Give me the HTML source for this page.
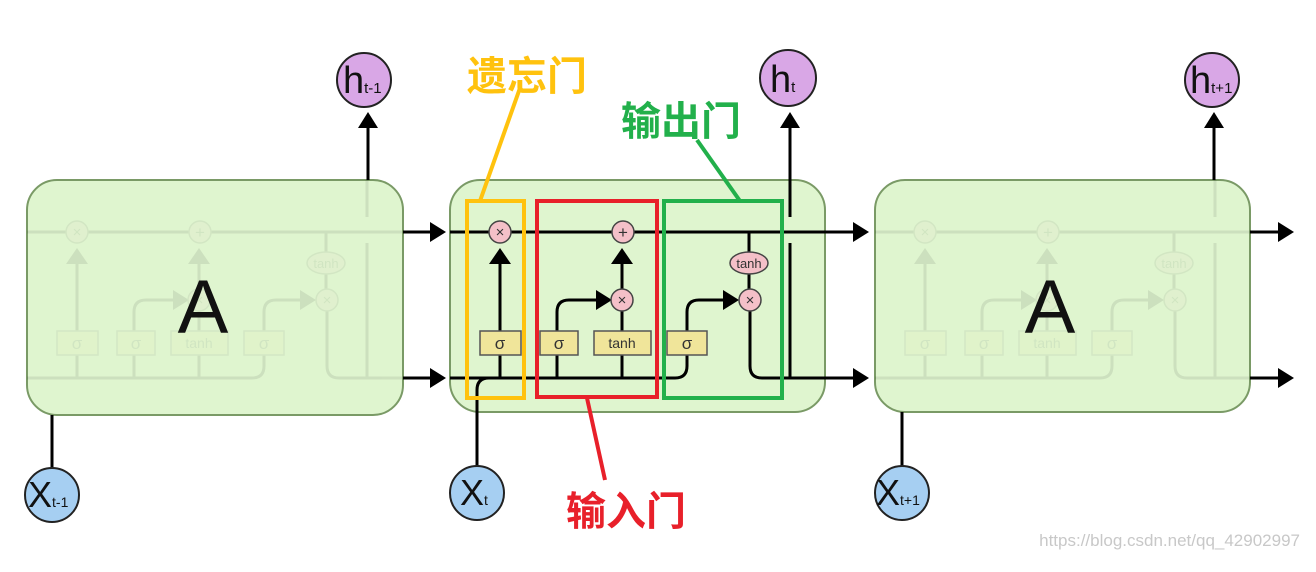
<!DOCTYPE html>
<html><head><meta charset="utf-8"><style>
html,body{margin:0;padding:0;background:#fff;}
svg{display:block;}
</style></head><body>
<svg width="1316" height="572" viewBox="0 0 1316 572" xmlns="http://www.w3.org/2000/svg" font-family="Liberation Sans, DejaVu Sans, sans-serif">
<defs>
<marker id="ah" markerWidth="10" markerHeight="10" refX="8" refY="5" orient="auto" markerUnits="userSpaceOnUse" viewBox="0 0 10 10">
</marker>
<g id="cell">
  <!-- top line -->
  <line x1="450" y1="232" x2="825" y2="232" stroke="#000" stroke-width="3"/>
  <!-- bottom line -->
  <path d="M450 378 H675 Q687 378 687 366 V355" fill="none" stroke="#000" stroke-width="3"/>
  <!-- forget path -->
  <line x1="500" y1="355" x2="500" y2="378" stroke="#000" stroke-width="3"/>
  <line x1="500" y1="331" x2="500" y2="262" stroke="#000" stroke-width="3"/>
  <polygon points="489,264 511,264 500,248" fill="#000"/>
  <!-- input -->
  <line x1="557" y1="355" x2="557" y2="378" stroke="#000" stroke-width="3"/>
  <path d="M557 331 V312 Q557 300 569 300 H598" fill="none" stroke="#000" stroke-width="3"/>
  <polygon points="596,290 612,300 596,310" fill="#000"/>
  <line x1="622" y1="355" x2="622" y2="378" stroke="#000" stroke-width="3"/>
  <line x1="622" y1="331" x2="622" y2="311" stroke="#000" stroke-width="3"/>
  <line x1="622" y1="289" x2="622" y2="262" stroke="#000" stroke-width="3"/>
  <polygon points="611,264 633,264 622,248" fill="#000"/>
  <!-- output -->
  <path d="M687 331 V312 Q687 300 699 300 H725" fill="none" stroke="#000" stroke-width="3"/>
  <polygon points="723,290 739,300 723,310" fill="#000"/>
  <line x1="749" y1="232" x2="749" y2="252" stroke="#000" stroke-width="3"/>
  <line x1="749" y1="274" x2="749" y2="289" stroke="#000" stroke-width="3"/>
  <path d="M750 311 V366 Q750 378 762 378 H825" fill="none" stroke="#000" stroke-width="3"/>
  <line x1="790" y1="243" x2="790" y2="378" stroke="#000" stroke-width="3"/>
  <line x1="790" y1="180" x2="790" y2="217" stroke="#000" stroke-width="3"/>
  <!-- ops -->
  <circle cx="500" cy="232" r="11" fill="#f4c0c8" stroke="#444" stroke-width="1.5"/>
  <text x="500" y="237" font-size="15" text-anchor="middle" fill="#333">×</text>
  <circle cx="623" cy="232" r="11" fill="#f4c0c8" stroke="#444" stroke-width="1.5"/>
  <text x="623" y="238" font-size="17" text-anchor="middle" fill="#333">+</text>
  <circle cx="622" cy="300" r="11" fill="#f4c0c8" stroke="#444" stroke-width="1.5"/>
  <text x="622" y="305" font-size="15" text-anchor="middle" fill="#333">×</text>
  <circle cx="750" cy="300" r="11" fill="#f4c0c8" stroke="#444" stroke-width="1.5"/>
  <text x="750" y="305" font-size="15" text-anchor="middle" fill="#333">×</text>
  <ellipse cx="749" cy="263" rx="19" ry="11" fill="#f4c0c8" stroke="#444" stroke-width="1.5"/>
  <text x="749" y="268" font-size="13" text-anchor="middle" fill="#333">tanh</text>
  <rect x="480" y="331" width="41" height="24" fill="#f0e59a" stroke="#555" stroke-width="1.5"/>
  <text x="500" y="349" font-size="17" text-anchor="middle" fill="#333">σ</text>
  <rect x="540" y="331" width="38" height="24" fill="#f0e59a" stroke="#555" stroke-width="1.5"/>
  <text x="559" y="349" font-size="17" text-anchor="middle" fill="#333">σ</text>
  <rect x="594" y="331" width="57" height="24" fill="#f0e59a" stroke="#555" stroke-width="1.5"/>
  <text x="622" y="348" font-size="14" text-anchor="middle" fill="#333">tanh</text>
  <rect x="667" y="331" width="40" height="24" fill="#f0e59a" stroke="#555" stroke-width="1.5"/>
  <text x="687" y="349" font-size="17" text-anchor="middle" fill="#333">σ</text>
</g>
</defs>

<!-- boxes -->
<rect x="27" y="180" width="376" height="235" rx="30" fill="#dff5cf" stroke="#7a9a66" stroke-width="2"/>
<rect x="450" y="180" width="375" height="232" rx="30" fill="#dff5cf" stroke="#7a9a66" stroke-width="2"/>
<rect x="875" y="180" width="375" height="232" rx="30" fill="#dff5cf" stroke="#7a9a66" stroke-width="2"/>

<use href="#cell" transform="translate(-423,0)" opacity="0.08"/>
<use href="#cell" transform="translate(425,0)" opacity="0.08"/>
<use href="#cell"/>

<text x="203" y="333" font-size="76" text-anchor="middle" fill="#111">A</text>
<text x="1050" y="333" font-size="76" text-anchor="middle" fill="#111">A</text>

<!-- x_t input into middle -->
<path d="M477 467 V390 Q477 378 489 378" fill="none" stroke="#000" stroke-width="3"/>

<!-- inter-box arrows -->
<g stroke="#000" stroke-width="3">
<line x1="403" y1="232" x2="432" y2="232"/><line x1="403" y1="378" x2="432" y2="378"/>
<line x1="825" y1="232" x2="855" y2="232"/><line x1="825" y1="378" x2="855" y2="378"/>
<line x1="1250" y1="232" x2="1280" y2="232"/><line x1="1250" y1="378" x2="1280" y2="378"/>
<line x1="368" y1="180" x2="368" y2="125"/><line x1="790" y1="180" x2="790" y2="125"/><line x1="1214" y1="180" x2="1214" y2="125"/>
<line x1="52" y1="415" x2="52" y2="468"/><line x1="902" y1="412" x2="902" y2="466"/>
</g>
<g fill="#000">
<polygon points="430,222 446,232 430,242"/><polygon points="430,368 446,378 430,388"/>
<polygon points="853,222 869,232 853,242"/><polygon points="853,368 869,378 853,388"/>
<polygon points="1278,222 1294,232 1278,242"/><polygon points="1278,368 1294,378 1278,388"/>
<polygon points="358,128 378,128 368,112"/><polygon points="780,128 800,128 790,112"/><polygon points="1204,128 1224,128 1214,112"/>
</g>

<!-- h circles -->
<g stroke="#222" stroke-width="2" fill="#d9a7e6">
<circle cx="364" cy="80" r="27"/><circle cx="788" cy="78" r="28"/><circle cx="1212" cy="80" r="27"/>
</g>
<g fill="#111">
<text x="343" y="93" font-size="38">h<tspan font-size="15">t-1</tspan></text>
<text x="770" y="92" font-size="38">h<tspan font-size="15">t</tspan></text>
<text x="1190" y="93" font-size="38">h<tspan font-size="15">t+1</tspan></text>
</g>
<!-- x circles -->
<g stroke="#222" stroke-width="2" fill="#a6cff2">
<circle cx="52" cy="495" r="27"/><circle cx="477" cy="493" r="27"/><circle cx="902" cy="493" r="27"/>
</g>
<g fill="#111">
<text x="28" y="507" font-size="36">X<tspan font-size="14">t-1</tspan></text>
<text x="460" y="505" font-size="36">X<tspan font-size="14">t</tspan></text>
<text x="876" y="505" font-size="36">X<tspan font-size="14">t+1</tspan></text>
</g>

<!-- annotations -->
<rect x="467" y="201" width="57" height="197" fill="none" stroke="#FFC20E" stroke-width="4"/>
<rect x="537" y="201" width="120" height="196" fill="none" stroke="#E8202A" stroke-width="4"/>
<rect x="664" y="201" width="118" height="197" fill="none" stroke="#22B04B" stroke-width="4"/>
<line x1="520" y1="88" x2="480" y2="201" stroke="#FFC20E" stroke-width="4"/>
<line x1="697" y1="140" x2="740" y2="201" stroke="#22B04B" stroke-width="4"/>
<line x1="587" y1="398" x2="605" y2="480" stroke="#E8202A" stroke-width="4"/>
<g font-family="Liberation Sans, Noto Sans CJK SC, sans-serif" font-weight="bold" font-size="40">
<text x="467" y="90" fill="#FFC20E">遗忘门</text>
<text x="621" y="135" fill="#22B04B">输出门</text>
<text x="566" y="525" fill="#E8202A">输入门</text>
</g>
<text x="1300" y="546" font-size="17" text-anchor="end" fill="#c8c8c8">https://blog.csdn.net/qq_42902997</text>
</svg>
</body></html>
